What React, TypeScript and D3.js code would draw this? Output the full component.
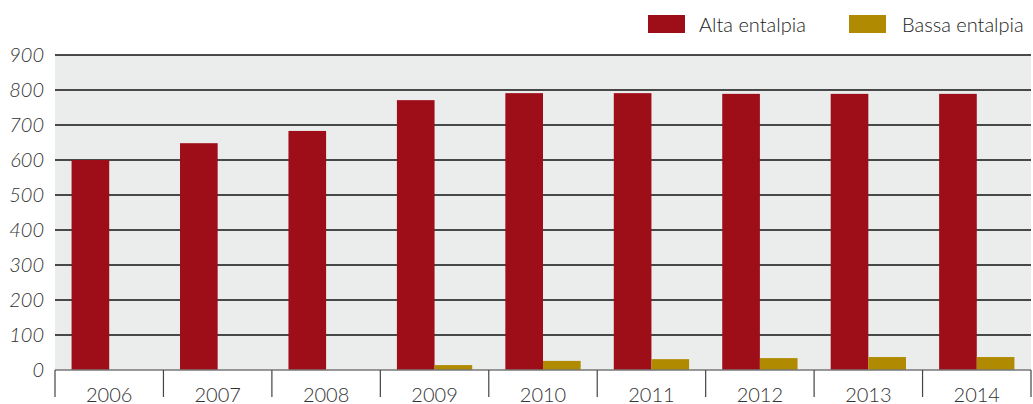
import React from "react";
import * as d3 from "d3";

const years = ["2006", "2007", "2008", "2009", "2010", "2011", "2012", "2013", "2014"];
const alta = [600, 648, 683, 771, 791, 791, 789, 789, 789];
const bassa = [0, 0, 0, 14, 26, 31, 34, 37, 37];
const yTicks = [0, 100, 200, 300, 400, 500, 600, 700, 800, 900];
const seriesNames = ["Alta entalpia", "Bassa entalpia"];
const colors = ["#9E0E19", "#B08A00"];

export default function App() {
  const W = 1033, H = 404;
  const x0 = 55, x1 = 1031, yTop = 55, yBot = 370;
  const x = d3.scaleBand<string>().domain(years).range([x0, x1]).paddingInner(0).paddingOuter(0);
  const y = d3.scaleLinear().domain([0, 900]).range([yBot, yTop]);
  const bw = x.bandwidth();
  const inner = d3.scaleBand<number>().domain([0, 1]).range([0, bw]).paddingOuter(0.44).paddingInner(0);
  const font = "Lato, 'DejaVu Sans', sans-serif";
  return (
    <svg width={W} height={H} style={{ position: "absolute", left: 0, top: 0 }}>
      <rect x={x0} y={yTop} width={x1 - x0} height={yBot - yTop} fill="#EBEDEC" />
      {yTicks.filter(t => t > 0).map(t => (
        <line key={t} x1={x0} x2={x1} y1={y(t)} y2={y(t)} stroke="#111" strokeWidth={1.5} />
      ))}
      {yTicks.map(t => (
        <text key={t} x={44} y={y(t) + 7} textAnchor="end" fontFamily={font} fontWeight={300}
          fontStyle="italic" fontSize={20} fill="#333">{t}</text>
      ))}
      {years.map((yr, i) => (
        <g key={yr}>
          <rect x={(x(yr) as number) + (inner(0) as number)} y={y(alta[i])} width={inner.bandwidth()}
            height={yBot - y(alta[i])} fill={colors[0]} />
          {bassa[i] > 0 && (
            <rect x={(x(yr) as number) + (inner(1) as number)} y={y(bassa[i])} width={inner.bandwidth()}
              height={yBot - y(bassa[i])} fill={colors[1]} />
          )}
        </g>
      ))}
      <line x1={x0} x2={x1} y1={yBot} y2={yBot} stroke="#777" strokeWidth={1.5} />
      {years.map(yr => (
        <line key={yr} x1={x(yr) as number} x2={x(yr) as number} y1={yBot} y2={397} stroke="#444" strokeWidth={1.2} />
      ))}
      <line x1={x1} x2={x1} y1={yBot} y2={397} stroke="#444" strokeWidth={1.2} />
      {years.map(yr => (
        <text key={yr} x={(x(yr) as number) + bw / 2} y={402} textAnchor="middle" fontFamily={font}
          fontWeight={300} fontSize={20} fill="#333">{yr}</text>
      ))}
      <rect x={648} y={15} width={37} height={18} fill={colors[0]} />
      <text x={699} y={32} fontFamily={font} fontWeight={300} fontSize={20} fill="#222">{seriesNames[0]}</text>
      <rect x={849} y={15} width={37} height={18} fill={colors[1]} />
      <text x={902} y={32} fontFamily={font} fontWeight={300} fontSize={20} fill="#222">{seriesNames[1]}</text>
    </svg>
  );
}
